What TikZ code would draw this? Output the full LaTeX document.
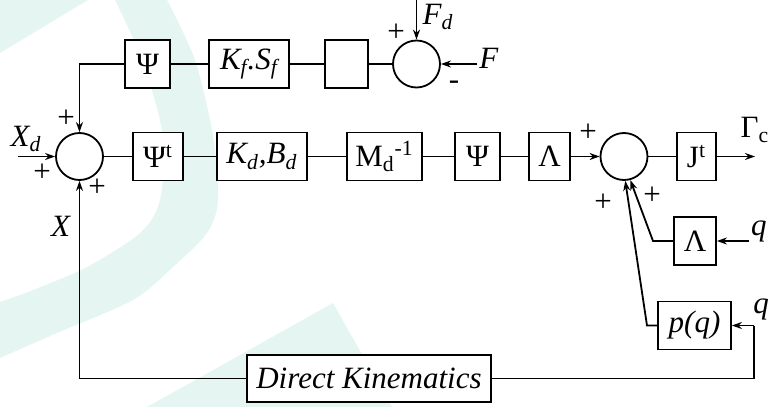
\documentclass[tikz,border=0pt]{standalone}
\usepackage{fontspec}
\setmainfont{Liberation Serif}
\usetikzlibrary{arrows.meta}
\definecolor{wmteal}{RGB}{229,246,242}

\begin{document}
\begin{tikzpicture}[x=0.5pt,y=-0.5pt,
font=\fontsize{15.5}{18}\selectfont,
blk/.style={rectangle, draw, fill=white, line width=0.9pt, inner sep=0pt, minimum height=24pt},
sumc/.style={circle, draw, fill=white, line width=0.9pt, inner sep=0pt, minimum size=23.5pt},
sig/.style={-{Stealth[length=5pt,width=3.5pt]}, line width=0.9pt},
wire/.style={line width=0.9pt},
lbl/.style={inner sep=0pt}
]
\useasboundingbox (0,0) rectangle (768,407);
\fill[wmteal] (0,0) -- (88,0) -- (0,53) -- cycle;
\fill[wmteal] plot[smooth] coordinates {(167,0) (195,60) (213,136) (218,200) (207,233) (173,267) (133,300) (57,333) (0,358)}
  -- plot[smooth] coordinates {(0,302) (33,290) (87,267) (140,233) (160,200) (163,136) (142,60) (115,0)} -- cycle;
\fill[wmteal] (147,407) -- (333,303) -- (392,407) -- cycle;

\node[blk, minimum width=22.5pt] (psiF) at (147.5,64) {Ψ};
\node[blk, minimum width=40pt] (kfsf) at (249,64) {\textit{K\textsubscript{f}.S\textsubscript{f}}};
\node[blk, minimum width=21.5pt] (blank) at (346.5,64) {};
\node[sumc] (sumF) at (416.5,64) {};
\node[sumc] (sumX) at (79.5,156.5) {};
\node[blk, minimum width=25pt] (psit) at (158,156.5) {Ψ\textsuperscript{t}};
\node[blk, minimum width=45pt] (kdbd) at (262,156.5) {\textit{K\textsubscript{d},B\textsubscript{d}}};
\node[blk, minimum width=37.5pt] (mdinv) at (384.5,156.5) {M\textsubscript{d}\textsuperscript{-1}};
\node[blk, minimum width=22.5pt] (psiM) at (477.5,156.5) {Ψ};
\node[blk, minimum width=20.5pt] (lam1) at (549.5,156.5) {Λ};
\node[sumc] (sumT) at (624,156.5) {};
\node[blk, minimum width=19.5pt] (jt) at (696.5,156.5) {J\textsuperscript{t}};
\node[blk, minimum width=21pt] (lam2) at (695,241) {Λ};
\node[blk, minimum width=36.5pt] (pq) at (694.5,325.5) {\textit{p(q)}};
\node[blk, minimum width=122pt, minimum height=23.5pt] (dk) at (369,378.5) {\textit{Direct Kinematics}};

\coordinate (xin) at (18,156.5);
\coordinate (gout) at (755,156.5);
\coordinate (fdin) at (416.5,0);
\coordinate (fin) at (477,64);
\coordinate (q1) at (749,241);
\coordinate (q2) at (754,325.5);
\coordinate (lamk) at (653,241);
\coordinate (pqk) at (647,325.5);

\draw[wire] (psiF) -- (kfsf);
\draw[wire] (kfsf) -- (blank);
\draw[wire] (blank) -- (sumF);
\draw[sig] (fdin) -- (sumF.north);
\draw[sig] (fin) -- (sumF.east);
\draw[sig] (psiF.west) -| (sumX.north);
\draw[sig] (xin) -- (sumX.west);
\draw[wire] (sumX) -- (psit);
\draw[wire] (psit) -- (kdbd);
\draw[wire] (kdbd) -- (mdinv);
\draw[wire] (mdinv) -- (psiM);
\draw[wire] (psiM) -- (lam1);
\draw[sig] (lam1) -- (sumT);
\draw[wire] (sumT) -- (jt);
\draw[sig] (jt) -- (gout);
\draw[sig] (q1) -- (lam2.east);
\draw[sig] (lam2.west) -- (lamk) -- (sumT.-75);
\draw[sig] (q2) -- (pq.east);
\draw[sig] (pq.west) -- (pqk) -- (sumT.-87);
\draw[wire] (q2) |- (dk.east);
\draw[sig] (dk.west) -| (sumX.south);

\node[lbl] (lxd) at (26,139) {\textit{X\textsubscript{d}}};
\node[lbl] (lx) at (61,226) {\textit{X}};
\node[lbl] (lfd) at (438,17) {\textit{F\textsubscript{d}}};
\node[lbl] (lf) at (489,58) {\textit{F}};
\node[lbl] (lgc) at (755,130) {Γ\textsubscript{c}};
\node[lbl] (lq1) at (759,231) {\textit{q}};
\node[lbl] (lq2) at (761,309) {\textit{q}};
\node[lbl] (pa) at (66,119) {+};
\node[lbl] (pb) at (42,173) {+};
\node[lbl] (pc) at (97,188) {+};
\node[lbl] (pd) at (396,33) {+};
\node[lbl] (me) at (454,85) {-};
\node[lbl] (pf) at (588,133) {+};
\node[lbl] (pg) at (603,203) {+};
\node[lbl] (ph) at (652,196) {+};
\end{tikzpicture}
\end{document}
